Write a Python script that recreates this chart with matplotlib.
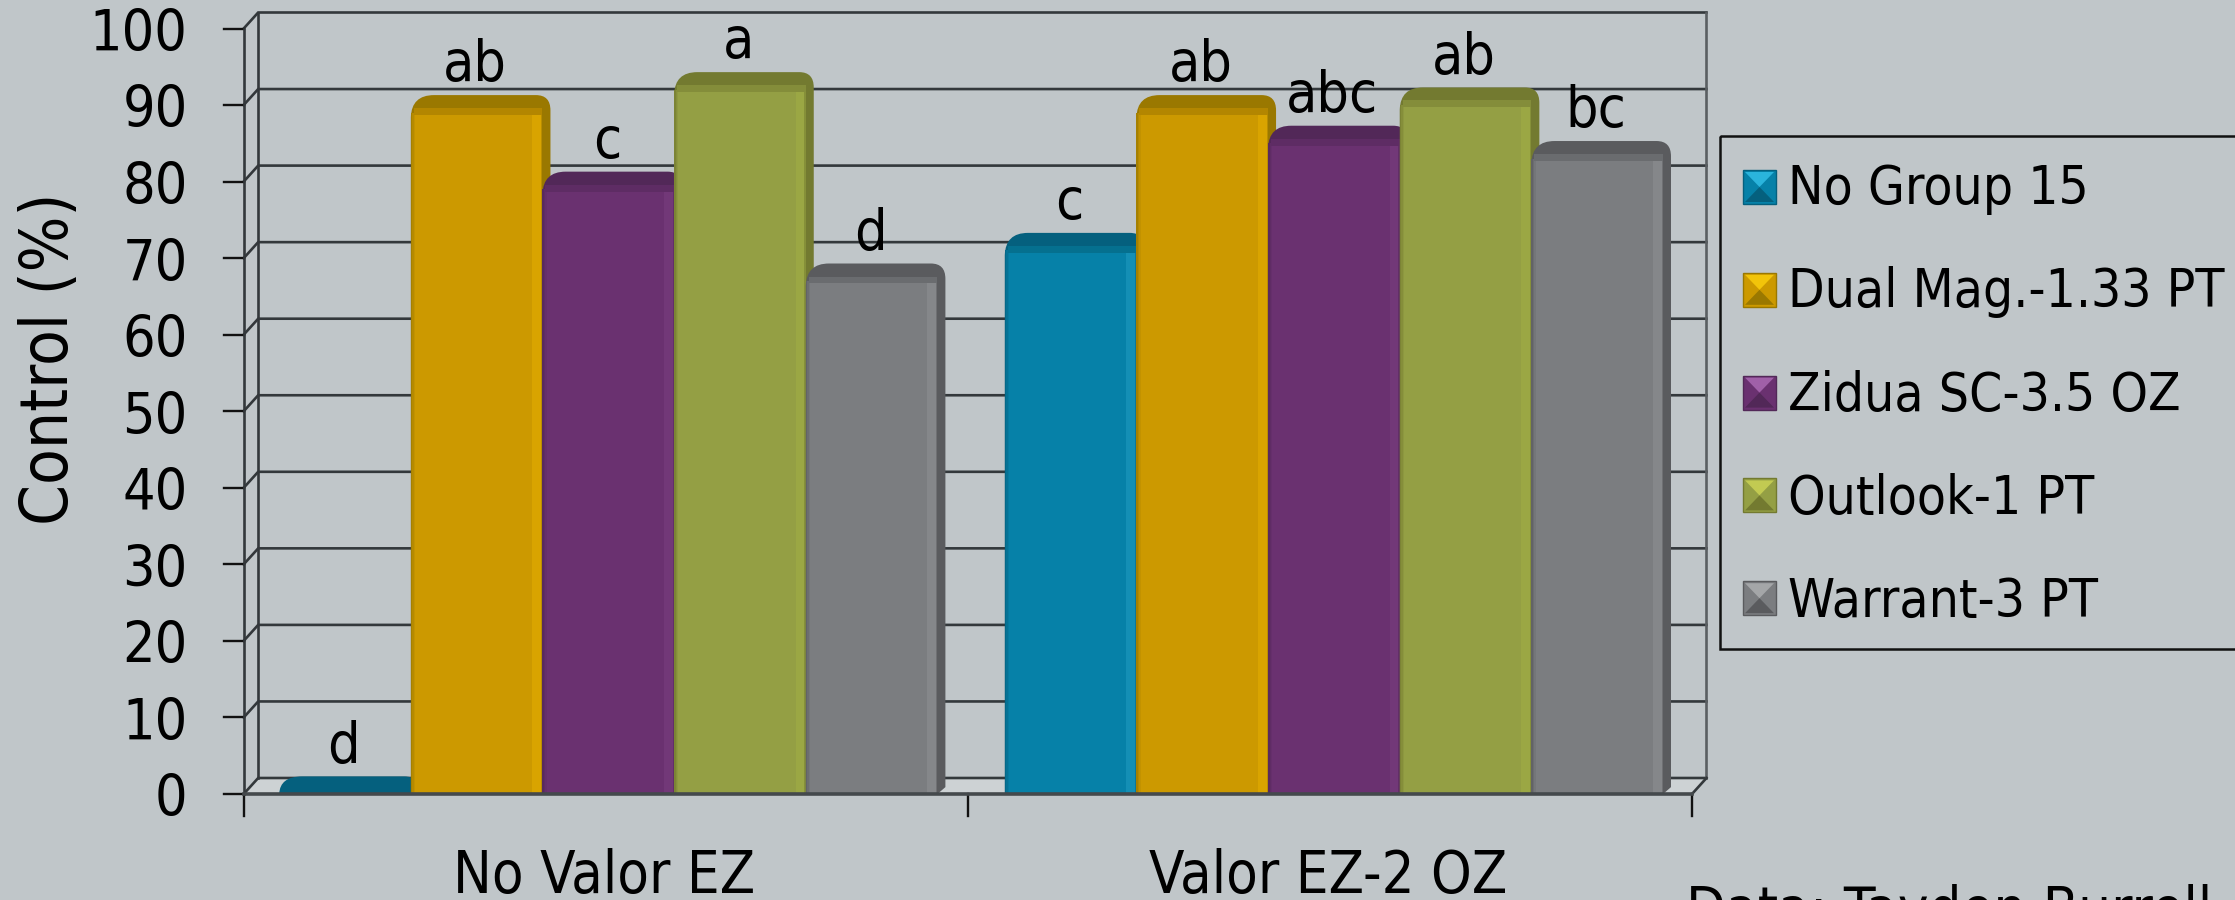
import matplotlib
matplotlib.use("Agg")
import matplotlib.pyplot as plt
from matplotlib.path import Path
from matplotlib.patches import PathPatch, Rectangle, Polygon

W, H = 2235, 900
BG = "#c0c6c9"
FONT = dict(family="DejaVu Sans", stretch="condensed", color="black")

groups = ["No Valor EZ", "Valor EZ-2 OZ"]
series = ["No Group 15", "Dual Mag.-1.33 PT", "Zidua SC-3.5 OZ", "Outlook-1 PT", "Warrant-3 PT"]
no_valor = [0, 89, 79, 92, 67]
valor = [71, 89, 85, 90, 83]
no_valor_letters = ["d", "ab", "c", "a", "d"]
valor_letters = ["c", "ab", "abc", "ab", "bc"]
yticks = list(range(0, 101, 10))

face = ["#0681a8", "#cc9900", "#6a3170", "#949f44", "#7b7d80"]
dark = ["#05607e", "#9a7800", "#522858", "#737a30", "#5a5b5e"]
mid = ["#05708f", "#b38600", "#5e2c64", "#848d3a", "#6a6c6f"]
light = ["#1b95bb", "#dfa900", "#763c7c", "#9fab44", "#8a8c8f"]
swatch_top = ["#2ab4dc", "#f2c40a", "#a060a8", "#c2ca52", "#a4a6a8"]

# depth of the fake 3d box, in data units
dx, dy = 0.0200, 2.09
bar_w = 0.1818
side = 0.011
band = 2.3

fig = plt.figure(figsize=(W / 100, H / 100), dpi=100, facecolor=BG)
ax = fig.add_axes([243.7 / W, (H - 794) / H, (1692 - 243.7) / W, 765.5 / H])
ax.set_xlim(0, 2)
ax.set_ylim(0, 100)
ax.axis("off")

line_c = "#33383b"

# floor
ax.add_patch(Polygon([(0, 0), (2, 0), (2 + dx, dy), (dx, dy)], fc="#cdd2d4", ec="none", clip_on=False, zorder=0.2))

# walls and gridlines sit behind the bars
for t in yticks:
    ax.plot([0, dx, 2 + dx], [t, t + dy, t + dy], color=line_c, lw=1.9, clip_on=False,
            solid_joinstyle="miter", zorder=0.5)
    ax.plot([-0.0275, 0], [t, t], color="#111111", lw=1.7, clip_on=False, zorder=0.5)
    ax.text(-0.0775, t - 0.9, str(t), ha="right", va="center", fontsize=41, **FONT)
ax.plot([0, 0], [0, 100], color=line_c, lw=1.9, clip_on=False, zorder=0.5)
ax.plot([dx, dx], [dy, 100 + dy], color=line_c, lw=1.9, clip_on=False, zorder=0.5)
ax.plot([2 + dx, 2 + dx], [dy, 100 + dy], color="#5a5f62", lw=1.9, clip_on=False, zorder=0.5)
ax.plot([2, 2 + dx], [0, dy], color=line_c, lw=1.9, clip_on=False, zorder=0.5)
ax.plot([0, 2], [0, 0], color="#44494c", lw=2.6, clip_on=False, zorder=6)
for c in range(3):
    ax.plot([c, c], [0, -2.9], color="#111111", lw=1.7, clip_on=False, zorder=0.5)


def draw_bar(left, v, i):
    # rounded silhouette holds the top band and the right side face
    r = left + bar_w + side
    top = v + band
    low = max(v - 0.6, 0)
    verts = [(left, 0), (left, low), (left + 0.001, top), (left + 0.032, top),
             (r - 0.02, top), (r, top), (r, v + 0.3), (r, 0.9), (left + bar_w, 0), (left, 0)]
    codes = [Path.MOVETO, Path.LINETO, Path.CURVE3, Path.CURVE3, Path.LINETO,
             Path.CURVE3, Path.CURVE3, Path.LINETO, Path.LINETO, Path.CLOSEPOLY]
    ax.add_patch(PathPatch(Path(verts, codes), fc=dark[i], ec="none", clip_on=False))
    if v <= 0:
        return
    ax.bar(left, v, bar_w, align="edge", color=face[i], lw=0, clip_on=False)
    # soft shaded edges on the front face
    for k, a in enumerate([0.75, 0.45, 0.2]):
        ax.bar(left + k * 0.002, v, 0.002, align="edge", color=dark[i], alpha=a, lw=0, clip_on=False)
    ax.bar(left + bar_w - 0.014, v, 0.014, align="edge", color=light[i], alpha=0.7, lw=0, clip_on=False)
    ax.bar(left + bar_w - 0.002, v, 0.002, align="edge", color=dark[i], alpha=0.5, lw=0, clip_on=False)
    # blend from the top band into the face
    ax.bar(left + 0.004, 0.9, bar_w - 0.004, bottom=v - 0.3, align="edge", color=mid[i], lw=0, clip_on=False)


for c, (vals, letters) in enumerate([(no_valor, no_valor_letters), (valor, valor_letters)]):
    for i, v in enumerate(vals):
        left = c * 1.002 + 0.049 + i * bar_w
        draw_bar(left, v, i)
        ax.text(left + bar_w / 2 - 0.002, v + 4.1, letters[i], ha="center", va="baseline",
                fontsize=41, clip_on=False, **FONT)
    ax.text(c + 0.498, -10.8, groups[c], ha="center", va="center", fontsize=41.5, **FONT)

ax.text(-0.267, 56.9, "Control (%)", rotation=90, ha="center", va="center", fontsize=47, **FONT)

# overlay in pixel coordinates for the legend and the credit line
ov = fig.add_axes([0, 0, 1, 1])
ov.set_xlim(0, W)
ov.set_ylim(H, 0)
ov.axis("off")
ov.patch.set_alpha(0)
ov.add_patch(Rectangle((1720, 136), 540, 513, fc="none", ec="#111111", lw=1.8, clip_on=True))
for i, name in enumerate(series):
    yc = 187 + i * 102.8
    x0, x1, y0, y1 = 1743, 1776, yc - 17, yc + 17
    cx, cy = (x0 + x1) / 2, (y0 + y1) / 2
    ov.add_patch(Rectangle((x0, y0), x1 - x0, y1 - y0, fc=face[i], ec=dark[i], lw=1))
    ov.add_patch(Polygon([(x0 + 2, y0 + 2), (x1 - 2, y0 + 2), (cx, cy)], fc=swatch_top[i], ec="none"))
    ov.add_patch(Polygon([(x0 + 2, y1 - 2), (x1 - 2, y1 - 2), (cx, cy)], fc=dark[i], ec="none"))
    ov.text(1788, yc + 2 + i * 0.5, name, ha="left", va="center", fontsize=38.2, **FONT)
ov.text(1686, 884, "Data: Tayden Burrell", ha="left", va="top", fontsize=41.5, clip_on=False, **FONT)

fig.savefig("out.png", dpi=100, facecolor=BG)
